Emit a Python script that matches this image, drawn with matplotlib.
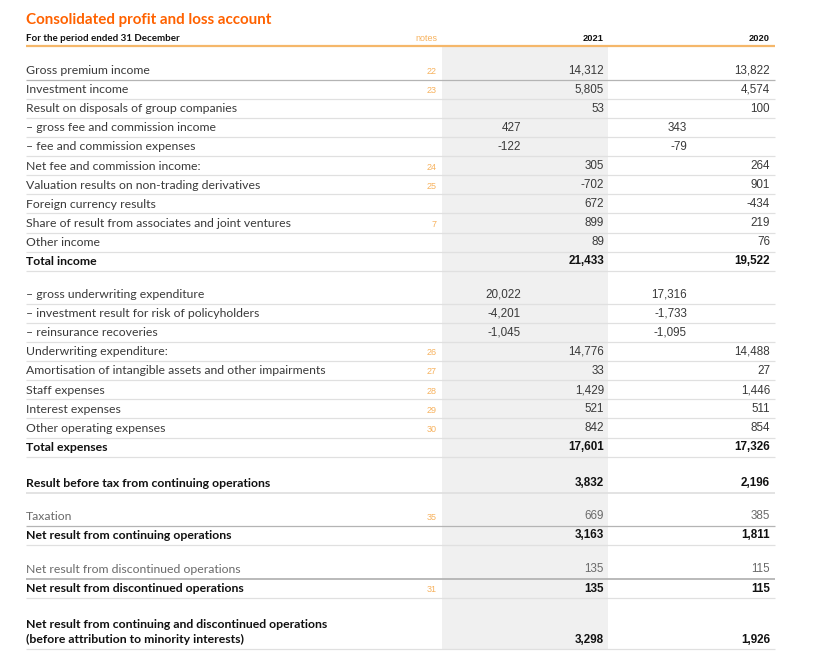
import matplotlib.pyplot as plt

labels = [
    'Gross premium income', 'Investment income', 'Result on disposals of group companies',
    '– gross fee and commission income', '– fee and commission expenses',
    'Net fee and commission income:', 'Valuation results on non-trading derivatives',
    'Foreign currency results', 'Share of result from associates and joint ventures',
    'Other income', 'Total income',
    '– gross underwriting expenditure', '– investment result for risk of policyholders',
    '– reinsurance recoveries', 'Underwriting expenditure:',
    'Amortisation of intangible assets and other impairments', 'Staff expenses',
    'Interest expenses', 'Other operating expenses', 'Total expenses',
    'Result before tax from continuing operations',
    'Taxation', 'Net result from continuing operations',
    'Net result from discontinued operations', 'Net result from discontinued operations',
    'Net result from continuing and discontinued operations\n(before attribution to minority interests)',
]
notes = ['22', '23', '', '', '', '24', '25', '', '7', '', '',
         '', '', '', '26', '27', '28', '29', '30', '',
         '', '35', '', '', '31', '']
sub_2021 = ['', '', '', '427', '-122', '', '', '', '', '', '',
            '20,022', '-4,201', '-1,045', '', '', '', '', '', '',
            '', '', '', '', '', '']
val_2021 = ['14,312', '5,805', '53', '', '', '305', '-702', '672', '899', '89', '21,433',
            '', '', '', '14,776', '33', '1,429', '521', '842', '17,601',
            '3,832', '669', '3,163', '135', '135', '3,298']
sub_2020 = ['', '', '', '343', '-79', '', '', '', '', '', '',
            '17,316', '-1,733', '-1,095', '', '', '', '', '', '',
            '', '', '', '', '', '']
val_2020 = ['13,822', '4,574', '100', '', '', '264', '901', '-434', '219', '76', '19,522',
            '', '', '', '14,488', '27', '1,446', '511', '854', '17,326',
            '2,196', '385', '1,811', '115', '115', '1,926']

# layout
bold_rows = {10, 19, 20, 22, 24, 25}
light_rows = {21, 23}
dark_line_rows = {0, 21, 23}
gap_before = {11: 13.9, 20: 16.9, 21: 13.9, 23: 14.9, 25: 15.5}
step = 19.1

ORANGE = '#ff6200'
NOTE = '#f7b25e'
TXT = '#3a3a3a'
LABEL_FONT = 'Lato'
NUM_FONT = 'Liberation Sans'

fig = plt.figure(figsize=(8.17, 6.63), dpi=100)
ax = fig.add_axes([0, 0, 1, 1])
ax.set_xlim(0, 817)
ax.set_ylim(663, 0)
ax.axis('off')

x0, x1 = 26, 775
ax.text(x0, 20, 'Consolidated profit and loss account', color=ORANGE, fontsize=10.9,
        fontweight='bold', family=LABEL_FONT, va='center')
ax.text(x0, 38.5, 'For the period ended 31 December', color='#111', fontsize=7.0,
        fontweight='bold', family=LABEL_FONT, va='center')
ax.text(437, 38.5, 'notes', color=NOTE, fontsize=6.5, family=NUM_FONT, ha='right', va='center')
ax.text(604, 38.5, '2021', color='#111', fontsize=6.7, fontweight='bold', family=NUM_FONT,
        ha='right', va='center')
ax.text(770, 38.5, '2020', color='#111', fontsize=6.7, fontweight='bold', family=NUM_FONT,
        ha='right', va='center')

ys = []
y = 70.5
for i in range(len(labels)):
    y += gap_before.get(i, 0)
    ys.append(y)
    y += step

bottom = ys[-1] + 25.5
ax.fill_between([442, 608], 47, bottom, color='#f0f0f0', lw=0, zorder=0)
ax.plot([x0, x1], [46, 46], color='#f5b76a', lw=1.6, solid_capstyle='butt', zorder=2)

for i, lab in enumerate(labels):
    yy = ys[i]
    bold = i in bold_rows
    w = 'bold' if bold else 'normal'
    col = '#111' if bold else ('#6a6a6a' if i in light_rows else TXT)
    ty = yy if i < 25 else yy + 8.5
    ax.text(x0, ty, lab, fontsize=8.8, fontweight=w, color=col, family=LABEL_FONT,
            va='center', linespacing=1.45)
    if notes[i]:
        ax.text(437, yy + 1, notes[i], fontsize=6.5, color=NOTE, family=NUM_FONT,
                ha='right', va='center')
    vy = yy if i < 25 else yy + 16.5
    for xr, v in [(521, sub_2021[i]), (604, val_2021[i]), (687, sub_2020[i]), (770, val_2020[i])]:
        if v:
            ax.text(xr, vy, v, fontsize=8.4, fontweight=w, color=col,
                    family=NUM_FONT, ha='right', va='center')
    ly = yy + 9.3 if i < 25 else bottom
    lc = '#b4b4b4' if i in dark_line_rows else '#e0e0e0'
    lw = 1.3 if i in (20, 23) else 0.9
    ax.plot([x0, x1], [ly, ly], color=lc, lw=lw, solid_capstyle='butt', zorder=1)

fig.savefig('out.png', dpi=100)
